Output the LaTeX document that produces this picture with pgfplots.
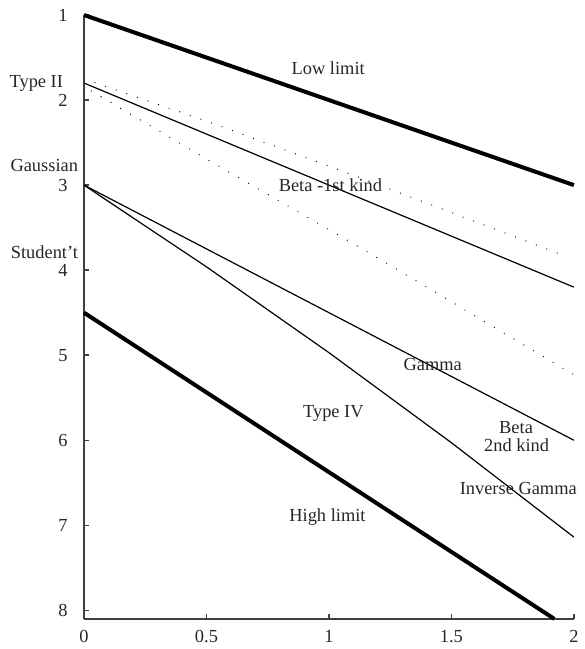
\documentclass[border=0pt]{standalone}
\usepackage{fontspec}
\setmainfont{Liberation Serif}
\usepackage{pgfplots}
\pgfplotsset{compat=1.18}
\tikzset{lbl/.style={font=\fontsize{9.2}{10}\selectfont, text=black!85, inner sep=0pt, outer sep=0pt}}
\begin{document}
\fontsize{9.2}{10}\selectfont
\begin{tikzpicture}
\begin{axis}[
  scale only axis, width=245pt, height=302pt,
  xmin=0, xmax=2, ymin=1, ymax=8.1, y dir=reverse,
  axis lines*=left,
  clip=false,
  xtick={0,0.5,1,1.5,2}, ytick={1,2,3,4,5,6,7,8},
  tick align=inside, major tick length=2.5pt,
  /pgf/number format/assume math mode=true,
  tick label style={font=\fontsize{9.2}{10}\selectfont, text=black!85},
  xticklabel style={yshift=-2.5pt},
  yticklabel style={xshift=-5pt},
  axis line style={line width=0.7pt, black!75},
  tick style={line width=0.7pt, black!75},
]
% invisible frame matching the reference proportions
\path (axis cs:-0.3429,0.8237) rectangle (axis cs:2.0204,8.450);
% Low limit
\addplot[black, line width=2pt] coordinates {(0,1) (2,3)};
% High limit
\addplot[black, line width=2pt] coordinates {(0,4.5) (1.92,8.1)};
% Beta 1st kind
\addplot[black, line width=0.6pt] coordinates {(0,1.8) (2,4.2)};
% Gamma
\addplot[black, line width=0.6pt] coordinates {(0,3) (2,6)};
% Inverse Gamma
\addplot[black, line width=0.6pt] coordinates {(0,3) (0.5,3.961) (1,4.970) (1.5,6.029) (2,7.139)};
% dotted boundaries
\addplot[black, line width=0.65pt, line cap=round, dash pattern=on 0pt off 5.6pt] coordinates {(0.045,1.796) (0.507,2.254) (1.097,2.880) (1.596,3.429) (1.97,3.84)};
\addplot[black, line width=0.65pt, line cap=round, dash pattern=on 0pt off 5.7pt] coordinates {(0.03,1.893) (0.494,2.684) (1.113,3.711) (1.224,3.899) (2,5.23)};
% labels
\node[lbl, anchor=base] at (axis cs:0.997,1.705) {Low limit};
\node[lbl, anchor=base] at (axis cs:1.006,3.080) {Beta -1st kind};
\node[lbl, anchor=base] at (axis cs:1.424,5.180) {Gamma};
\node[lbl, anchor=base] at (axis cs:1.018,5.732) {Type IV};
\node[lbl, anchor=base] at (axis cs:1.764,5.924) {Beta};
\node[lbl, anchor=base] at (axis cs:1.766,6.127) {2nd kind};
\node[lbl, anchor=base] at (axis cs:1.773,6.640) {Inverse Gamma};
\node[lbl, anchor=base] at (axis cs:0.994,6.954) {High limit};
\node[lbl, anchor=base east] at (axis cs:-0.0857,1.850) {Type II};
\node[lbl, anchor=base east] at (axis cs:-0.0245,2.841) {Gaussian};
\node[lbl, anchor=base east] at (axis cs:-0.0245,3.859) {Student’t};
\end{axis}
\end{tikzpicture}
\end{document}
